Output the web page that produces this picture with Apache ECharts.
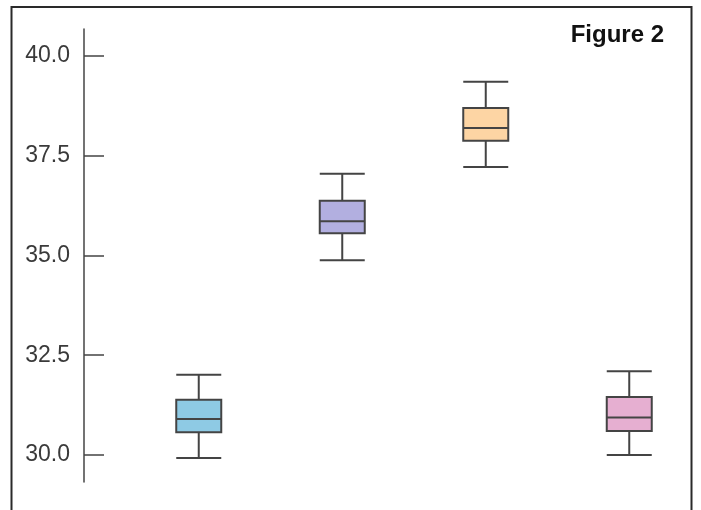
<!DOCTYPE html>
<html>
<head>
<meta charset="utf-8">
<script src="https://cdn.jsdelivr.net/npm/echarts@6/dist/echarts.min.js"></script>
<style>
html,body{margin:0;padding:0;background:#fff;}
#c{width:701px;height:510px;}
</style>
</head>
<body>
<div id="c"></div>
<script>
// Data
const categories = ['Group 1', 'Group 2', 'Group 3', 'Group 4'];
// [min, Q1, median, Q3, max]
const group1 = [29.92, 30.57, 30.90, 31.38, 32.01];
const group2 = [34.88, 35.56, 35.86, 36.37, 37.05];
const group3 = [37.22, 37.88, 38.20, 38.70, 39.36];
const group4 = [30.00, 30.60, 30.94, 31.45, 32.10];
const tickValues = [30, 32.5, 35, 37.5, 40];
const titleText = 'Figure 2';

const boxColors = ['#8ECAE4', '#B2AFE0', '#FDD5A4', '#E6AFD1'];
const groups = [group1, group2, group3, group4];

const chart = echarts.init(document.getElementById('c'), null, {renderer: 'canvas'});
chart.setOption({
  animation: false,
  backgroundColor: '#fff',
  graphic: [
    {
      type: 'rect',
      shape: {x: 11.5, y: 7, width: 680, height: 530},
      style: {fill: 'none', stroke: '#2a2a2a', lineWidth: 2},
      silent: true
    }
  ],
  title: {
    text: titleText,
    right: 32,
    top: 18,
    textStyle: {fontFamily: 'Liberation Sans, Arial, sans-serif', fontWeight: 'bold', fontSize: 24, color: '#111'}
  },
  grid: {left: 127, right: -5, top: 29, bottom: 28, containLabel: false},
  xAxis: {
    type: 'category',
    data: categories,
    show: false,
    boundaryGap: true
  },
  yAxis: {
    type: 'value',
    min: 29.32,
    max: 40.68,
    offset: 43,
    axisLine: {show: true, lineStyle: {color: '#444', width: 1.5}},
    axisTick: {show: true, inside: true, length: 20, customValues: tickValues, lineStyle: {color: '#444', width: 1.5}},
    axisLabel: {
      show: true,
      customValues: tickValues,
      margin: 14,
      color: '#3a3a3a',
      fontFamily: 'Liberation Sans, Arial, sans-serif',
      fontSize: 23,
      formatter: function (v) { return Number(v).toFixed(1); }
    },
    splitLine: {show: false}
  },
  series: [{
    type: 'boxplot',
    boxWidth: [45, 45],
    itemStyle: {borderColor: '#444', borderWidth: 2},
    data: groups.map(function (g, i) {
      return {value: g, itemStyle: {color: boxColors[i], borderColor: '#444', borderWidth: 2}};
    })
  }]
});
</script>
</body>
</html>
